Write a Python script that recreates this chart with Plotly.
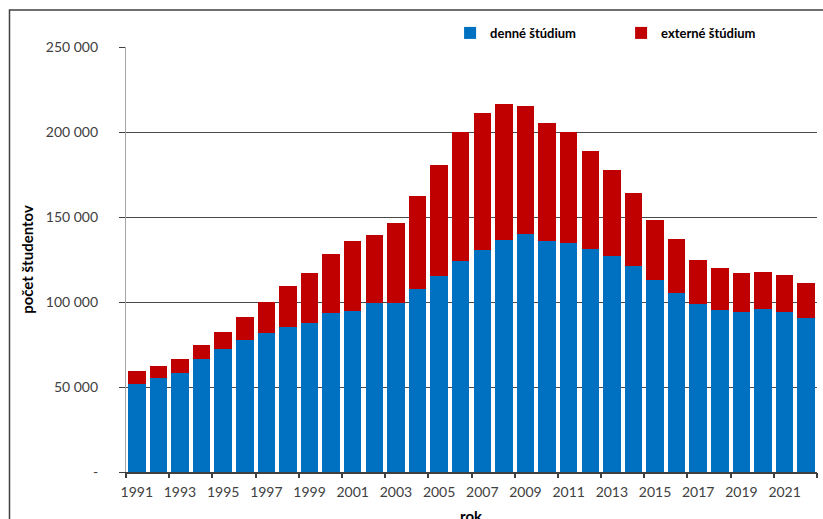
import plotly.graph_objects as go

# Počet študentov vysokých škôl podľa formy štúdia
years = list(range(1991, 2023))
denne = [52000, 55300, 58400, 66500, 72400, 77600, 82000, 85300, 87600, 93300,
         94700, 99600, 99700, 107600, 115400, 123900, 130600, 136700, 140200, 135900,
         134500, 131000, 127300, 121200, 112900, 105300, 98800, 95300, 93900, 95700,
         93900, 90600]
spolu = [59600, 62400, 66700, 74700, 82400, 91000, 99800, 109200, 117300, 128000,
         135900, 139600, 146300, 162500, 180600, 200200, 211200, 216500, 215500, 205500,
         199800, 188800, 177500, 164300, 148200, 137300, 124900, 120000, 116900, 117600,
         115700, 111200]
externe = [s - d for s, d in zip(spolu, denne)]

y_ticks = [0, 50000, 100000, 150000, 200000, 250000]
y_labels = ["-", "50 000", "100 000", "150 000", "200 000", "250 000"]
x_labels = [y for y in years if y % 2 == 1]
x_bounds = [y - 0.5 for y in years if y % 2 == 1] + [years[-1] + 0.5]

BLUE = "#0070C0"
RED = "#C00000"
AXIS = "#404040"
FONT = "Lato, 'Open Sans', sans-serif"

fig = go.Figure()
fig.add_trace(go.Bar(x=years, y=denne, name="denné štúdium",
                     marker=dict(color=BLUE, line=dict(width=0))))
fig.add_trace(go.Bar(x=years, y=externe, name="externé štúdium",
                     marker=dict(color=RED, line=dict(width=0))))
# invisible trace carrying the category-boundary tick marks
fig.add_trace(go.Scatter(x=[years[0]], y=[0], xaxis="x2", mode="markers",
                         marker=dict(opacity=0), showlegend=False, hoverinfo="skip"))

fig.update_layout(
    width=823, height=519,
    margin=dict(l=126, r=6, t=47, b=47, autoexpand=False),
    barmode="stack", bargap=0.19,
    paper_bgcolor="white", plot_bgcolor="white",
    font=dict(family=FONT, size=14, color=AXIS),
    legend=dict(orientation="h", traceorder="normal",
                x=0.469, xanchor="left", y=1.033, yanchor="middle",
                font=dict(family=FONT, size=13, color="black", weight="bold"),
                entrywidth=126, itemwidth=30, bgcolor="rgba(0,0,0,0)"),
    xaxis=dict(range=[years[0] - 0.5, years[-1] + 0.5], tickvals=x_labels,
               ticktext=[str(y) for y in x_labels], ticks="", showgrid=False,
               showline=True, linecolor=AXIS, linewidth=1.5,
               ticklabelstandoff=6, automargin=False,
               tickfont=dict(size=14, color=AXIS)),
    xaxis2=dict(range=[years[0] - 0.5, years[-1] + 0.5], overlaying="x", side="bottom",
                tickvals=x_bounds, ticks="outside", ticklen=5, tickwidth=1.5,
                tickcolor=AXIS, showticklabels=False, showgrid=False, showline=False),
    yaxis=dict(range=[0, 250000], tickvals=y_ticks, ticktext=y_labels,
               ticks="outside", ticklen=6, tickwidth=1.2, tickcolor=AXIS,
               showgrid=True, gridcolor="#4a4a4a", gridwidth=1.2,
               showline=True, linecolor="#a6a6a6", linewidth=1.2,
               zeroline=False, ticklabelstandoff=18, automargin=False,
               tickfont=dict(size=14, color=AXIS),
               title=dict(text="počet študentov",
                          font=dict(size=15, color="black", weight="bold"),
                          standoff=8)),
    # x-axis title sits partly below the bottom edge of the page
    annotations=[dict(text="rok", xref="paper", yref="paper", x=0.5, y=-0.1035,
                      xanchor="center", yanchor="middle", showarrow=False,
                      font=dict(family=FONT, size=15, color="black", weight="bold"))],
    shapes=[dict(type="rect", xref="paper", yref="paper",
                 x0=-0.1686, x1=1.2, y0=-0.3, y1=1.087,
                 line=dict(color=AXIS, width=1.5), fillcolor="rgba(0,0,0,0)",
                 layer="below")],
)

fig.write_html("out.html")
